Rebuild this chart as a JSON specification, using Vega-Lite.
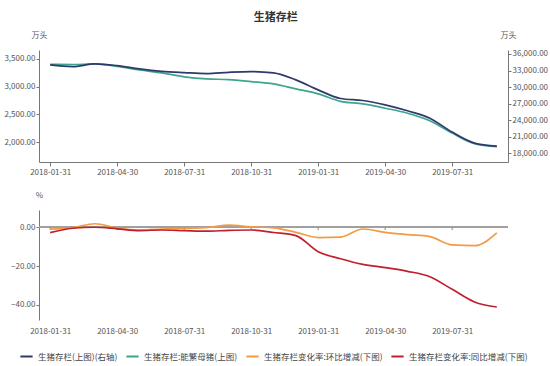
{
  "$schema": "https://vega.github.io/schema/vega-lite/v6.json",
  "background": "white",
  "padding": {"left": 3, "top": 12, "right": 3, "bottom": 2},
  "title": {"text": "生猪存栏", "font": "Noto Sans CJK SC", "fontSize": 11, "fontWeight": "bold", "color": "#333", "anchor": "middle", "offset": 8},
  "data": {"values": [
    {"date": "2018-01-31", "hog": 34010, "sow": 3403, "mom": -1.0, "yoy": -2.8},
    {"date": "2018-02-28", "hog": 33700, "sow": 3400, "mom": -0.2, "yoy": -0.5},
    {"date": "2018-03-31", "hog": 34190, "sow": 3410, "mom": 1.8, "yoy": 0.0},
    {"date": "2018-04-30", "hog": 33880, "sow": 3367, "mom": -0.4, "yoy": -0.8},
    {"date": "2018-05-31", "hog": 33285, "sow": 3302, "mom": -1.4, "yoy": -1.7},
    {"date": "2018-06-30", "hog": 32850, "sow": 3248, "mom": -0.9, "yoy": -1.4},
    {"date": "2018-07-31", "hog": 32615, "sow": 3178, "mom": -0.5, "yoy": -1.7},
    {"date": "2018-08-31", "hog": 32435, "sow": 3140, "mom": -0.2, "yoy": -2.0},
    {"date": "2018-09-30", "hog": 32670, "sow": 3128, "mom": 1.1, "yoy": -1.6},
    {"date": "2018-10-31", "hog": 32800, "sow": 3092, "mom": 0.2, "yoy": -1.4},
    {"date": "2018-11-30", "hog": 32560, "sow": 3050, "mom": -0.3, "yoy": -2.7},
    {"date": "2018-12-31", "hog": 31295, "sow": 2960, "mom": -2.6, "yoy": -4.3},
    {"date": "2019-01-31", "hog": 29485, "sow": 2870, "mom": -5.3, "yoy": -12.6},
    {"date": "2019-02-28", "hog": 27910, "sow": 2735, "mom": -5.1, "yoy": -16.2},
    {"date": "2019-03-31", "hog": 27550, "sow": 2690, "mom": -0.9, "yoy": -19.1},
    {"date": "2019-04-30", "hog": 26770, "sow": 2611, "mom": -2.6, "yoy": -20.8},
    {"date": "2019-05-31", "hog": 25680, "sow": 2521, "mom": -3.8, "yoy": -22.7},
    {"date": "2019-06-30", "hog": 24340, "sow": 2385, "mom": -4.8, "yoy": -25.5},
    {"date": "2019-07-31", "hog": 21810, "sow": 2162, "mom": -9.1, "yoy": -32.0},
    {"date": "2019-08-31", "hog": 19820, "sow": 1970, "mom": -9.5, "yoy": -38.5},
    {"date": "2019-09-30", "hog": 19275, "sow": 1917, "mom": -2.9, "yoy": -41.1}
  ]},
  "bounds": "flush",
  "spacing": 48,
  "vconcat": [
    {
      "width": 469,
      "height": 112,
      "encoding": {
        "x": {"field": "date", "type": "ordinal", "scale": {"type": "point", "padding": 0.5},
              "axis": {"title": null, "labelAngle": 0, "values": ["2018-01-31","2018-04-30","2018-07-31","2018-10-31","2019-01-31","2019-04-30","2019-07-31"], "tickSize": 4, "labelPadding": 2}}
      },
      "layer": [
        {
          "mark": {"type": "line", "interpolate": "monotone", "strokeWidth": 1.7},
          "encoding": {
            "y": {"field": "sow", "type": "quantitative", "scale": {"domain": [1640, 3662], "nice": false, "zero": false},
                  "axis": {"title": "万头", "titleAngle": 0, "titleX": 0, "titleY": -15, "titleAlign": "center", "titleBaseline": "middle", "values": [2000, 2500, 3000, 3500], "format": ",.2f"}},
            "color": {"datum": "生猪存栏:能繁母猪(上图)", "scale": {"domain": ["生猪存栏(上图)(右轴)", "生猪存栏:能繁母猪(上图)", "生猪存栏变化率:环比增减(下图)", "生猪存栏变化率:同比增减(下图)"], "range": ["#2e3a6b", "#3fa48e", "#f39a44", "#c0202e"]}}
          }
        },
        {
          "mark": {"type": "line", "interpolate": "monotone", "strokeWidth": 1.7},
          "encoding": {
            "y": {"field": "hog", "type": "quantitative", "scale": {"domain": [16380, 36724], "nice": false, "zero": false},
                  "axis": {"orient": "right", "title": "万头", "titleAngle": 0, "titleX": 0, "titleY": -15, "titleAlign": "center", "titleBaseline": "middle", "values": [18000, 21000, 24000, 27000, 30000, 33000, 36000], "format": ",.2f"}},
            "color": {"datum": "生猪存栏(上图)(右轴)"}
          }
        }
      ],
      "resolve": {"scale": {"y": "independent"}}
    },
    {
      "width": 469,
      "height": 110,
      "encoding": {
        "x": {"field": "date", "type": "ordinal", "scale": {"type": "point", "padding": 0.5},
              "axis": {"title": null, "labelAngle": 0, "values": ["2018-01-31","2018-04-30","2018-07-31","2018-10-31","2019-01-31","2019-04-30","2019-07-31"], "domain": false, "ticks": false, "labelPadding": 7}}
      },
      "layer": [
        {
          "mark": {"type": "rule", "color": "#a0a0a0", "strokeWidth": 1.5},
          "encoding": {"y": {"datum": 0, "type": "quantitative", "scale": {"domain": [-47.8, 8.9], "nice": false, "zero": false},
            "axis": {"title": "%", "titleAngle": 0, "titleX": 0, "titleY": -15, "titleAlign": "center", "titleBaseline": "middle", "values": [0, -10, -20, -30, -40], "format": ",.2f"}}, "x": null}
        },
        {
          "transform": [{"filter": {"field": "date", "oneOf": ["2018-01-31","2018-04-30","2018-07-31","2018-10-31","2019-01-31","2019-04-30","2019-07-31"]}}],
          "mark": {"type": "rule", "color": "#888", "strokeWidth": 1},
          "encoding": {"x": {"field": "date", "type": "ordinal"}, "y": {"datum": 0, "type": "quantitative"}, "y2": {"datum": -1.5}}
        },
        {
          "mark": {"type": "line", "interpolate": "monotone", "strokeWidth": 1.7},
          "encoding": {
            "y": {"field": "mom", "type": "quantitative", "title": "%"},
            "color": {"datum": "生猪存栏变化率:环比增减(下图)"}
          }
        },
        {
          "mark": {"type": "line", "interpolate": "monotone", "strokeWidth": 1.7},
          "encoding": {
            "y": {"field": "yoy", "type": "quantitative", "title": "%"},
            "color": {"datum": "生猪存栏变化率:同比增减(下图)"}
          }
        }
      ]
    }
  ],
  "resolve": {"scale": {"color": "shared"}},
  "config": {
    "font": "Noto Sans CJK SC",
    "view": {"stroke": null},
    "axis": {"grid": false, "labelFont": "Noto Sans CJK SC", "labelFontSize": 8, "labelColor": "#555", "domainColor": "#777", "tickColor": "#777", "tickSize": 3, "labelPadding": 1, "titleFont": "Noto Sans CJK SC", "titleFontSize": 8, "titleFontWeight": "normal", "titleColor": "#555"},
    "legend": {"orient": "none", "legendX": -20, "legendY": 299, "direction": "horizontal", "columns": 4, "symbolType": "stroke", "symbolStrokeWidth": 2, "symbolSize": 150, "labelFontSize": 8.5, "labelColor": "#444", "labelFont": "Noto Sans CJK SC", "labelOffset": 4, "columnPadding": 4, "title": null}
  }
}
